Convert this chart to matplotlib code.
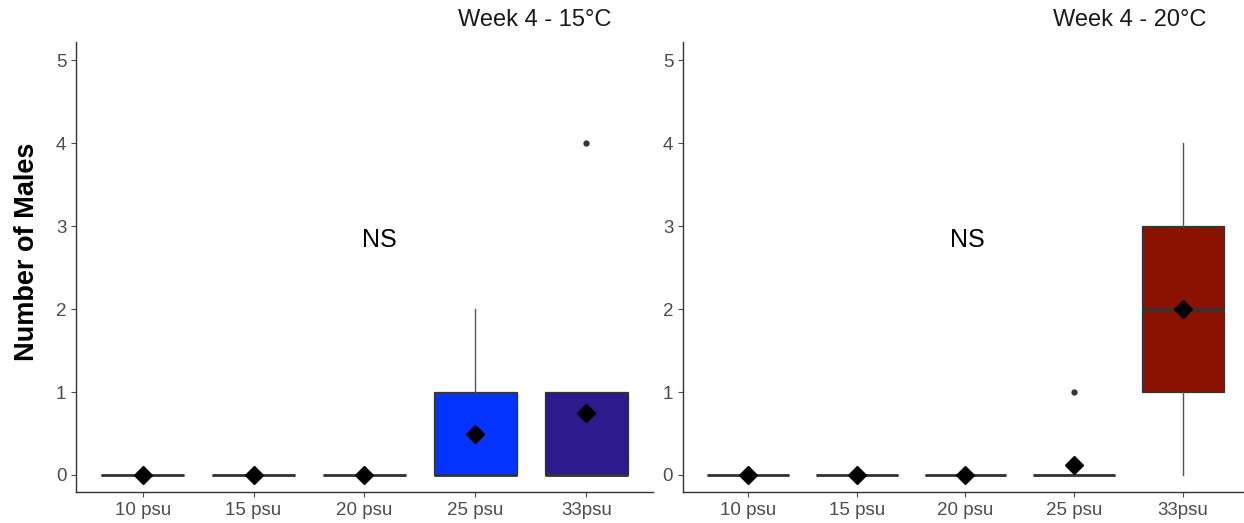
import matplotlib
matplotlib.use("Agg")
import matplotlib.pyplot as plt

plt.rcParams['font.family'] = ['Liberation Sans', 'DejaVu Sans']

categories = ['10 psu', '15 psu', '20 psu', '25 psu', '33psu']

# Week 4 - 15°C
q1_15 = [0, 0, 0, 0, 0]
med_15 = [0, 0, 0, 0, 0]
q3_15 = [0, 0, 0, 1, 1]
wlo_15 = [0, 0, 0, 0, 0]
whi_15 = [0, 0, 0, 2, 1]
fliers_15 = [[], [], [], [], [4]]
mean_15 = [0, 0, 0, 0.5, 0.75]
colors_15 = ['white', 'white', 'white', '#0433FF', '#2D1A8C']

# Week 4 - 20°C
q1_20 = [0, 0, 0, 0, 1]
med_20 = [0, 0, 0, 0, 2]
q3_20 = [0, 0, 0, 0, 3]
wlo_20 = [0, 0, 0, 0, 0]
whi_20 = [0, 0, 0, 0, 4]
fliers_20 = [[], [], [], [1], []]
mean_20 = [0, 0, 0, 0.125, 2]
colors_20 = ['white', 'white', 'white', 'white', '#8B1200']

yticks = [0, 1, 2, 3, 4, 5]

fig = plt.figure(figsize=(12.44, 5.23), dpi=100)
ax1 = fig.add_axes([0.0611, 0.0593, 0.4638, 0.8604])
ax2 = fig.add_axes([0.549, 0.0593, 0.4542, 0.8604])


def draw(ax, q1, med, q3, wlo, whi, fliers, means, colors, title, title_x, ns_x):
    stats = []
    for i in range(len(categories)):
        stats.append(dict(q1=q1[i], med=med[i], q3=q3[i], whislo=wlo[i],
                          whishi=whi[i], fliers=fliers[i], mean=means[i],
                          label=categories[i]))
    bp = ax.bxp(stats, positions=range(len(categories)), widths=0.75,
                patch_artist=True, showmeans=True, showcaps=False,
                boxprops=dict(edgecolor='#333333', linewidth=0.9),
                whiskerprops=dict(color='#555555', linewidth=1.0),
                medianprops=dict(color='#333333', linewidth=2.0),
                meanprops=dict(marker='D', markerfacecolor='black',
                               markeredgecolor='black', markersize=9.5),
                flierprops=dict(marker='o', markerfacecolor='#333333',
                                markeredgecolor='#333333', markersize=3.5))
    for patch, c in zip(bp['boxes'], colors):
        patch.set_facecolor(c)
    for m in bp['means']:
        m.set_zorder(5)
    ax.set_xlim(-0.6, 4.6)
    ax.set_ylim(-0.205, 5.22)
    ax.set_yticks(yticks)
    ax.set_xticks(range(len(categories)))
    ax.set_xticklabels(categories)
    for s in ['top', 'right']:
        ax.spines[s].set_visible(False)
    for s in ['left', 'bottom']:
        ax.spines[s].set_color('#333333')
        ax.spines[s].set_linewidth(1.0)
    ax.tick_params(axis='both', colors='#4D4D4D', labelsize=13.5,
                   length=3.5, width=0.8, labelcolor='#4D4D4D')
    ax.tick_params(axis='x', pad=4)
    ax.text(ns_x, 2.83, 'NS', fontsize=18, ha='center', va='center', color='black')
    fig.text(title_x, 0.962, title, fontsize=17, ha='center', va='center', color='#1a1a1a')


draw(ax1, q1_15, med_15, q3_15, wlo_15, whi_15, fliers_15, mean_15, colors_15,
     'Week 4 - 15°C', 0.43, 2.13)
draw(ax2, q1_20, med_20, q3_20, wlo_20, whi_20, fliers_20, mean_20, colors_20,
     'Week 4 - 20°C', 0.908, 2.02)

fig.text(0.022, 0.518, 'Number of Males', rotation=90, fontsize=19.5,
         fontweight='bold', ha='center', va='center', color='black')

fig.savefig('out.png', dpi=100)
